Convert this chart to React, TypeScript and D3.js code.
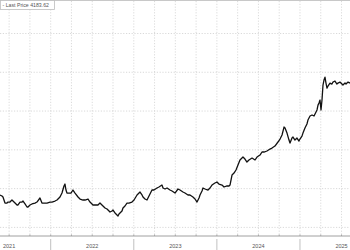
import React from "react";
import * as d3 from "d3";

// decimal-year dates of the traced points
const dates: number[] = [
  2021.390, 2021.414, 2021.426, 2021.450, 2021.474, 2021.486, 2021.510, 2021.534, 2021.571, 2021.595,
  2021.607, 2021.631, 2021.655, 2021.667, 2021.691, 2021.715, 2021.727, 2021.751, 2021.775, 2021.811,
  2021.835, 2021.871, 2021.895, 2021.919, 2021.956, 2021.992, 2022.016, 2022.052, 2022.076, 2022.100,
  2022.112, 2022.136, 2022.160, 2022.172, 2022.184, 2022.196, 2022.220, 2022.244, 2022.268, 2022.293,
  2022.329, 2022.353, 2022.389, 2022.413, 2022.449, 2022.473, 2022.509, 2022.533, 2022.569, 2022.593,
  2022.617, 2022.654, 2022.678, 2022.714, 2022.738, 2022.750, 2022.774, 2022.798, 2022.810, 2022.822,
  2022.834, 2022.858, 2022.870, 2022.894, 2022.918, 2022.942, 2022.978, 2023.003, 2023.039, 2023.063,
  2023.075, 2023.099, 2023.111, 2023.135, 2023.159, 2023.183, 2023.219, 2023.243, 2023.279, 2023.303,
  2023.339, 2023.352, 2023.376, 2023.400, 2023.436, 2023.460, 2023.496, 2023.532, 2023.556, 2023.592,
  2023.616, 2023.652, 2023.676, 2023.712, 2023.737, 2023.761, 2023.785, 2023.797, 2023.821, 2023.833,
  2023.857, 2023.893, 2023.917, 2023.941, 2023.977, 2024.001, 2024.025, 2024.062, 2024.086, 2024.122,
  2024.146, 2024.158, 2024.182, 2024.206, 2024.230, 2024.254, 2024.278, 2024.302, 2024.314, 2024.338,
  2024.362, 2024.386, 2024.423, 2024.459, 2024.483, 2024.519, 2024.543, 2024.567, 2024.603, 2024.639,
  2024.663, 2024.699, 2024.735, 2024.760, 2024.784, 2024.808, 2024.820, 2024.844, 2024.868, 2024.880,
  2024.904, 2024.916, 2024.940, 2024.964, 2024.988, 2025.000, 2025.024, 2025.036, 2025.060, 2025.084,
  2025.096, 2025.121, 2025.145, 2025.169, 2025.193, 2025.205, 2025.217, 2025.229, 2025.241, 2025.253,
  2025.265, 2025.277, 2025.289, 2025.301, 2025.313, 2025.325, 2025.337, 2025.361, 2025.385, 2025.397,
  2025.421, 2025.445, 2025.457, 2025.481, 2025.505, 2025.517, 2025.542, 2025.554, 2025.578, 2025.602,
];

// last price series
const prices: number[] = [
  1918, 1905, 1892, 1814, 1814, 1827, 1827, 1853, 1814, 1789,
  1789, 1827, 1827, 1840, 1802, 1763, 1763, 1789, 1802, 1814,
  1827, 1879, 1814, 1814, 1814, 1827, 1827, 1840, 1853, 1879,
  1892, 1943, 2034, 2059, 1982, 1943, 1943, 1943, 1982, 1943,
  1892, 1866, 1853, 1853, 1866, 1827, 1789, 1789, 1789, 1814,
  1789, 1750, 1737, 1698, 1711, 1724, 1686, 1660, 1647, 1673,
  1686, 1711, 1750, 1776, 1814, 1814, 1827, 1853, 1918, 1943,
  1956, 1918, 1892, 1866, 1853, 1905, 1982, 1982, 2008, 2021,
  2046, 2008, 1995, 2008, 1982, 1969, 1943, 1995, 1982, 1956,
  1943, 1918, 1918, 1892, 1866, 1827, 1879, 1918, 1969, 2008,
  1995, 1982, 2008, 2046, 2072, 2085, 2059, 2046, 2021, 2034,
  2034, 2046, 2175, 2201, 2240, 2304, 2369, 2394, 2407, 2381,
  2343, 2369, 2394, 2369, 2407, 2433, 2472, 2472, 2485, 2510,
  2523, 2549, 2601, 2639, 2691, 2794, 2781, 2716, 2626, 2588,
  2652, 2665, 2626, 2652, 2613, 2639, 2678, 2716, 2781, 2833,
  2884, 2936, 2949, 2936, 2988, 3014, 3077, 3103, 3142, 3014,
  3142, 3335, 3400, 3438, 3361, 3296, 3322, 3361, 3348, 3374,
  3387, 3348, 3361, 3374, 3348, 3335, 3361, 3348, 3374, 3361,
];

const gridValues: number[] = [1500, 2000, 2500, 3000, 3500, 4000];
const yearLabels: string[] = ["2021", "2022", "2023", "2024", "2025"];
const legendText = "- Last Price 4183.62";

const W = 350;
const H = 250;
const FONT = "'Liberation Sans', Arial, Helvetica, sans-serif";

export default function App() {
  const data = dates.map((d, i) => ({ t: d, v: prices[i] }));
  const x = d3.scaleLinear().domain(d3.extent(dates) as [number, number]).range([0, W]);
  const y = d3.scaleLinear().domain([1500, 4000]).range([227.4, 33.5]);

  const line = d3
    .line<{ t: number; v: number }>()
    .x((d) => x(d.t))
    .y((d) => y(d.v))
    .curve(d3.curveLinear);

  const years = yearLabels.map((s) => +s);
  const quarters = d3.range(2021, 2026.01, 0.25).filter((q) => x(q) >= 0 && x(q) <= W);
  const yearStarts = d3.range(2021, 2027).filter((q) => x(q) >= 0 && x(q) <= W);
  const axisY = 236;

  return (
    <svg
      width={W}
      height={H}
      style={{ position: "absolute", left: 0, top: 0, background: "#fff" }}
      fontFamily={FONT}
    >
      <rect x={0} y={0} width={W} height={H} fill="#fff" />
      {/* top border */}
      <line x1={0} x2={W} y1={0.5} y2={0.5} stroke="#c8c8c8" strokeWidth={1} />
      {/* horizontal grid */}
      {gridValues.map((g) => (
        <line
          key={"h" + g}
          x1={0}
          x2={W}
          y1={y(g)}
          y2={y(g)}
          stroke="#cfcfcf"
          strokeWidth={0.8}
          strokeDasharray="1.2,1.6"
        />
      ))}
      {/* vertical grid (quarters) */}
      {quarters.map((q) => (
        <line
          key={"v" + q}
          x1={x(q)}
          x2={x(q)}
          y1={1}
          y2={axisY}
          stroke="#d2d2d2"
          strokeWidth={0.8}
          strokeDasharray="1.2,1.6"
        />
      ))}
      {/* price line */}
      <path d={line(data) || ""} fill="none" stroke="#111" strokeWidth={1.3} strokeLinejoin="round" />
      {/* x axis */}
      <line x1={0} x2={W} y1={axisY} y2={axisY} stroke="#888" strokeWidth={0.8} />
      {quarters.map((q) => (
        <line key={"t" + q} x1={x(q)} x2={x(q)} y1={axisY - 1.5} y2={axisY} stroke="#888" strokeWidth={0.6} />
      ))}
      {yearStarts.map((q) => (
        <line key={"ys" + q} x1={x(q)} x2={x(q)} y1={axisY + 3} y2={H} stroke="#b0b0b0" strokeWidth={0.8} />
      ))}
      {years.map((yr, i) => (
        <text
          key={"yl" + yr}
          x={x(yr + 0.5)}
          y={248}
          fontSize={5.5}
          fill="#555"
          textAnchor="middle"
        >
          {yearLabels[i]}
        </text>
      ))}
      {/* legend */}
      <rect x={0.5} y={0.5} width={54} height={9} fill="#fff" stroke="#bdbdbd" strokeWidth={0.8} />
      <text x={2.5} y={6.8} fontSize={5.2} fill="#555">
        {legendText}
      </text>
    </svg>
  );
}
